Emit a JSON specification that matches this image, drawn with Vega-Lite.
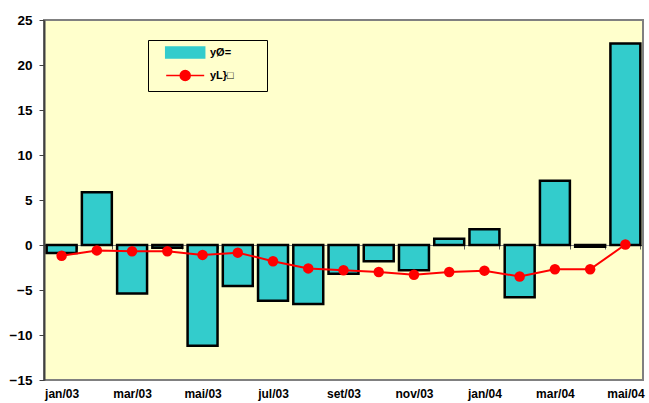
{
  "$schema": "https://vega.github.io/schema/vega-lite/v6.json",
  "width": 599,
  "height": 360,
  "autosize": "none",
  "padding": {"left": 44, "top": 20, "right": 6, "bottom": 23},
  "background": "white",
  "config": {
    "view": {"fill": "#FFFFCC", "stroke": "#808080", "strokeWidth": 2},
    "font": "Liberation Sans"
  },
  "data": {
    "values": [
      {"m": "jan/03", "bar": -0.9, "line": -1.2},
      {"m": "fev/03", "bar": 5.85, "line": -0.6},
      {"m": "mar/03", "bar": -5.4, "line": -0.7},
      {"m": "abr/03", "bar": -0.3, "line": -0.7},
      {"m": "mai/03", "bar": -11.2, "line": -1.1},
      {"m": "jun/03", "bar": -4.55, "line": -0.85},
      {"m": "jul/03", "bar": -6.2, "line": -1.8},
      {"m": "ago/03", "bar": -6.55, "line": -2.6},
      {"m": "set/03", "bar": -3.2, "line": -2.8},
      {"m": "out/03", "bar": -1.8, "line": -3.0},
      {"m": "nov/03", "bar": -2.8, "line": -3.3},
      {"m": "dez/03", "bar": 0.7, "line": -3.0},
      {"m": "jan/04", "bar": 1.75, "line": -2.85},
      {"m": "fev/04", "bar": -5.8, "line": -3.5},
      {"m": "mar/04", "bar": 7.15, "line": -2.7},
      {"m": "abr/04", "bar": -0.2, "line": -2.7},
      {"m": "mai/04", "bar": 22.4, "line": 0.05}
    ]
  },
  "layer": [
    {
      "mark": {"type": "bar", "stroke": "black", "strokeWidth": 2.5},
      "encoding": {
        "x": {
          "field": "m", "type": "ordinal", "sort": null,
          "scale": {"paddingInner": 0.15, "paddingOuter": 0.075},
          "axis": {
            "title": null, "orient": "bottom", "offset": -135,
            "domain": true, "domainColor": "#808080", "domainWidth": 1,
            "ticks": true, "tickBand": "extent", "tickSize": 4, "tickColor": "#606060",
            "labelAngle": 0, "labelFont": "Liberation Sans", "labelFontWeight": "bold",
            "labelFontSize": 12, "labelColor": "black", "labelPadding": 139,
            "labelExpr": "indexof(['jan/03','mar/03','mai/03','jul/03','set/03','nov/03','jan/04','mar/04','mai/04'], datum.value) >= 0 ? datum.label : ''"
          }
        },
        "y": {
          "field": "bar", "type": "quantitative",
          "scale": {"domain": [-15, 25], "nice": false},
          "axis": {
            "title": null, "grid": false, "values": [-15, -10, -5, 0, 5, 10, 15, 20, 25],
            "domainColor": "#404040", "domainWidth": 2, "tickColor": "#404040", "tickSize": 5,
            "labelPadding": 7, "labelFont": "Liberation Sans", "labelFontWeight": "bold",
            "labelFontSize": 13.5, "labelColor": "black"
          }
        },
        "color": {
          "datum": "yØ=", "type": "nominal",
          "scale": {"domain": ["yØ=", "yL}□"], "range": ["#33CCCC", "#FF0000"]},
          "legend": {
            "orient": "none", "legendX": 104, "legendY": 20, "title": null,
            "padding": 7, "strokeColor": "black", "fillColor": "#FFFFCC",
            "labelFont": "Liberation Sans", "labelFontWeight": "bold", "labelFontSize": 11,
            "labelColor": "black", "symbolSize": 16, "labelOffset": 44, "rowPadding": 4,
            "encode": {
              "symbols": {
                "update": {
                  "shape": {"signal": "datum.value === 'yØ=' ? 'M2.85,-2.5H21.85V2.5H2.85Z M47,0' : 'M2.85,0H21.85M14.85,0A2.5,2.5 0 1,1 9.85,0A2.5,2.5 0 1,1 14.85,0Z M47,0'"},
                  "fill": {"signal": "datum.value === 'yØ=' ? '#33CCCC' : '#FF0000'"},
                  "stroke": {"signal": "datum.value === 'yØ=' ? '#000000' : '#FF0000'"},
                  "strokeWidth": {"signal": "datum.value === 'yØ=' ? 2.5 : 1.5"},
                  "size": {"value": 16},
                  "opacity": {"value": 1}
                }
              }
            }
          }
        }
      }
    },
    {
      "mark": {"type": "line", "color": "#FF0000", "strokeWidth": 2, "point": {"filled": true, "size": 110, "color": "#FF0000", "opacity": 1}},
      "encoding": {
        "x": {"field": "m", "type": "ordinal", "sort": null},
        "y": {"field": "line", "type": "quantitative", "title": null},
        "color": {
          "datum": "yL}□", "type": "nominal",
          "legend": {
            "orient": "none", "legendX": 104, "legendY": 20, "title": null,
            "padding": 7, "strokeColor": "black", "fillColor": "#FFFFCC",
            "labelFont": "Liberation Sans", "labelFontWeight": "bold", "labelFontSize": 11,
            "labelColor": "black", "symbolSize": 16, "labelOffset": 44, "rowPadding": 4,
            "encode": {
              "symbols": {
                "update": {
                  "shape": {"signal": "datum.value === 'yØ=' ? 'M2.85,-2.5H21.85V2.5H2.85Z M47,0' : 'M2.85,0H21.85M14.85,0A2.5,2.5 0 1,1 9.85,0A2.5,2.5 0 1,1 14.85,0Z M47,0'"},
                  "fill": {"signal": "datum.value === 'yØ=' ? '#33CCCC' : '#FF0000'"},
                  "stroke": {"signal": "datum.value === 'yØ=' ? '#000000' : '#FF0000'"},
                  "strokeWidth": {"signal": "datum.value === 'yØ=' ? 2.5 : 1.5"},
                  "size": {"value": 16},
                  "opacity": {"value": 1}
                }
              }
            }
          }
        }
      }
    }
  ]
}
